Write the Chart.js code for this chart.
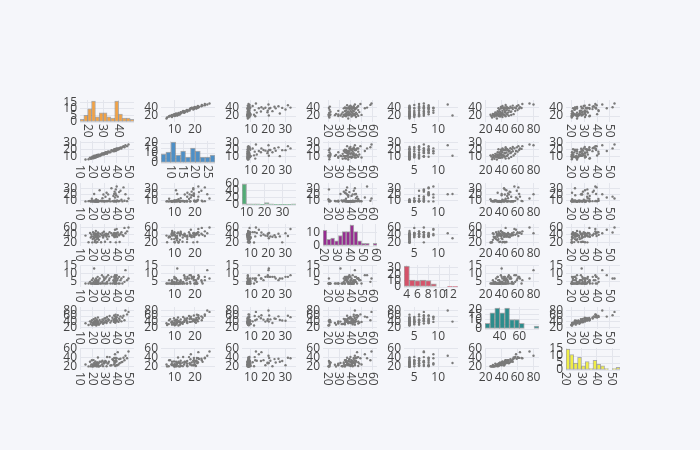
<!DOCTYPE html>
<html><head><meta charset="utf-8">
<script src="https://cdn.jsdelivr.net/npm/chart.js@4.4.1/dist/chart.umd.min.js"></script>
<style>
html,body{margin:0;padding:0;background:#f5f6fa;}
#wrap{position:relative;width:700px;height:450px;overflow:hidden;background:#f5f6fa;}
#wrap canvas{position:absolute;}
</style></head><body><div id="wrap"></div>
<script>
// ---- data (one observation per index) ----
const varA = [14.3,16.8,18.0,18.6,19.1,19.5,19.9,20.2,20.5,20.9,21.1,21.4,21.7,21.9,22.0,22.2,22.4,22.6,22.8,23.0,23.1,23.3,23.5,23.6,23.8,24.0,24.1,24.3,24.5,24.6,24.8,24.9,25.3,25.9,26.5,27.1,27.8,28.2,28.7,29.0,29.4,29.8,30.3,30.7,31.2,31.6,32.0,32.3,32.9,33.5,34.1,34.7,35.6,36.4,37.2,37.6,37.8,38.0,38.2,38.4,38.5,38.7,38.9,39.0,39.2,39.4,39.5,39.7,39.9,40.3,40.8,41.4,41.9,42.3,43.0,43.8,44.6,45.5,46.3,47.1,48.4,49.6];
const varB = [6.0,6.3,8.7,7.1,8.5,7.3,10.1,8.5,9.9,7.8,9.7,11.3,8.8,9.9,8.7,11.1,9.7,10.9,8.8,10.6,11.9,10.0,11.2,9.8,12.5,10.8,12.0,9.9,11.7,10.7,12.7,11.4,12.6,10.7,13.1,11.9,14.7,13.0,14.0,15.0,13.0,15.0,13.9,16.2,14.9,16.3,14.2,16.2,17.4,15.8,17.1,16.1,19.2,17.8,19.5,17.6,19.5,20.7,18.4,19.7,18.0,20.5,19.5,21.0,19.2,20.7,18.5,20.5,21.7,19.7,21.7,20.0,22.0,21.2,23.2,21.5,23.8,24.9,23.4,26.1,24.9,27.2];
const varC = [8.2,8.6,9.1,8.0,8.4,12.5,8.8,8.1,9.5,8.3,8.7,20.4,8.0,9.2,8.5,8.9,8.2,9.7,8.4,8.1,11.8,8.6,8.3,9.4,8.0,8.7,9.0,8.2,8.5,9.8,8.1,8.8,8.4,26.8,8.6,9.3,8.2,13.4,8.9,19.6,8.5,8.1,8.7,15.8,8.3,22.5,9.1,8.4,19.8,8.8,12.2,8.2,30.1,8.6,17.3,8.0,20.6,9.4,24.4,8.3,14.6,8.7,21.3,9.0,28.2,8.5,18.4,8.1,33.0,9.6,16.1,8.4,23.7,8.9,26.0,11.0,8.2,31.5,9.2,20.2,8.6,12.9];
const varD = [38,21,45,33,41,36,20.5,29,47,35,42,31,38,21.5,44,26,39,34,50,36,20.2,41,37,29,43,35,21.8,40,46,32,38,44,27,36,42,20.8,39,45,33,37,48,41,22.0,38,43,35,40,29,42,36,47,21.2,44,39,41,37,45,42,34,41,53,40,36,43,20.6,44,38,42,55,35,46,41,39,21.4,43,47,40,37,58,44,49,59];
const varE = [4,4,5,4,4,6,4,4,7,4,5,13,4,4,6,4,4,5,4,7,4,4,6,4,5,4,4,8,4,4,5,6,4,7,4,4,9,5,4,8,6,7,4,7,4,8,5,4,9,6,7,4,8,4,6,5,8,4,7,4,9,6,8,4,7,5,8,4,9,6,7,4,8,4,6,7,4,8,5,12,6,7];
const varF = [34,28,41,31,38,45,27,36,33,49,30,40,37,44,29,35,52,32,39,43,26,36,47,33,38,30,42,35,55,31,40,37,29,46,34,41,39,48,32,44,36,51,38,52,44,35,57,41,49,46,60,37,43,54,47,39,62,45,50,42,58,36,48,65,44,53,40,47,56,43,63,39,51,46,59,41,54,61,45,80,66,75];
const varG = [24.4,20.3,30.6,20.6,24.8,34.0,20.1,24.6,21.2,34.4,20.4,28.0,24.2,25.4,23.4,24.0,31.2,26.2,24.4,23.8,20.6,23.6,28.2,22.8,28.8,20.7,29.2,22.0,40.0,21.0,26.0,27.2,20.2,30.6,21.5,30.6,24.4,32.8,20.9,28.4,26.6,30.6,28.8,32.2,30.4,20.5,41.2,26.6,27.4,30.6,41.0,22.2,22.8,36.4,34.2,24.4,39.2,32.0,29.0,28.2,47.5,21.3,32.8,39.0,32.4,33.8,23.0,31.2,38.6,22.8,52.0,24.4,36.6,27.6,37.4,29.6,30.4,39.6,34.0,44.0,38.6,53.5];

// ---- diagonal histograms (bin counts) ----
const histA = [2,5,10,16,4,7,7,4,3,16,6,3,3,2];
const histB = [9,11,21,8,12,6,15,12,6,6,8];
const histC = [58,3,3,3,2,7,3,2,2,2,2,3];
const histD = [12,5,6,4,8,11,11,16,11,4,2,2,0,2];
const histE = [33,11,10,11,10,5,0,0,1,1];
const histF = [6,17,22,17,22,10,10,6,0,0,3];
const histG = [15,11,5,9,3,6,1,7,4,3,1,0,1,2];
const histStart = [15,6,7.5,19,3.5,25,20];
const histSize  = [2.5,2,2.5,3,1,5,2.5];

// ---- tick steps ----
const xTickStep = [10,10,10,10,5,20,10];
const yTickStep = [20,10,10,20,5,20,20];
const histXStep = [10,5,10,10,2,20,10];
const histYStep = [5,5,20,10,10,5,5];

const variables = [varA,varB,varC,varD,varE,varF,varG];
const hists = [histA,histB,histC,histD,histE,histF,histG];

// ---- styles / layout ----
const histColors = ['#f3a243','#4e8fc6','#52ab76','#962d91','#d4536a','#2c8c8c','#f0ee46'];
const rotScatterX = [true,false,false,true,false,false,true];
const rotHistX = [true,true,false,true,false,false,true];
const GRID = '#e3e5ec';
const TXT = '#444';
const FONT = '12px "Open Sans", sans-serif';
const PX0 = 80, PY0 = 100, DX = 81, DY = 41.33, W = 54, H = 22;
const PADL = 30, PADR = 4, PADT = 8, PADB = 22;
const XPADPX = 5.5, YPADPX = 3.5;

function fmt(v){ return String(Math.round(v*1000)/1000); }
function ticksIn(min, max, step, dropEnd){
  const out = [];
  for (let k = Math.ceil(min/step - 1e-9); k*step <= max + 1e-9; k++){
    const v = k*step;
    if (dropEnd && v > max - (max-min)*0.02) break;
    out.push(Math.round(v*1000)/1000);
  }
  return out;
}
function autoRange(arr, lenPx, padPx){
  let lo = Math.min(...arr), hi = Math.max(...arr);
  const pad = (hi-lo)*padPx/(lenPx-2*padPx);
  return [lo-pad, hi+pad];
}

const tickPlugin = {
  id: 'plotlyTicks',
  afterDraw(chart, args, opts){
    const ctx = chart.ctx, area = chart.chartArea;
    const xs = chart.scales.x, ys = chart.scales.y;
    ctx.save();
    ctx.fillStyle = TXT; ctx.font = FONT;
    xs.ticks.forEach(t => {
      const p = xs.getPixelForValue(t.value), s = fmt(t.value);
      if (opts.rotate){
        ctx.save(); ctx.translate(p, area.bottom + 2); ctx.rotate(Math.PI/2);
        ctx.textAlign = 'left'; ctx.textBaseline = 'middle'; ctx.fillText(s, 0, 0.5); ctx.restore();
      } else {
        ctx.textAlign = 'center'; ctx.textBaseline = 'top'; ctx.fillText(s, p, area.bottom + 2);
      }
    });
    ys.ticks.forEach(t => {
      const p = ys.getPixelForValue(t.value);
      ctx.textAlign = 'right'; ctx.textBaseline = 'middle'; ctx.fillText(fmt(t.value), area.left - 3, p);
    });
    ctx.restore();
  }
};

function scaleOpts(min, max, ticks){
  return {
    type: 'linear', min, max, offset: false,
    ticks: { display: false },
    grid: { color: GRID, lineWidth: 1, drawTicks: false, offset: false },
    border: { display: false },
    afterBuildTicks: s => { s.ticks = ticks.map(v => ({ value: v })); }
  };
}

const wrap = document.getElementById('wrap');
for (let r = 0; r < 7; r++){
  for (let c = 0; c < 7; c++){
    const px = Math.round(PX0 + c*DX), py = Math.round(PY0 + r*DY);
    const cv = document.createElement('canvas');
    cv.width = W + PADL + PADR; cv.height = H + PADT + PADB;
    cv.style.left = (px - PADL) + 'px'; cv.style.top = (py - PADT) + 'px';
    wrap.appendChild(cv);
    let cfg;
    if (r === c){
      const counts = hists[c], st = histStart[c], sz = histSize[c];
      const xmin = st, xmax = st + sz*counts.length;
      const ymax = Math.max(...counts)*1.05;
      cfg = {
        type: 'bar',
        data: { datasets: [{
          data: counts.map((n,k) => ({ x: st + sz*(k+0.5), y: n })),
          backgroundColor: histColors[c],
          borderColor: 'rgba(110,110,110,0.55)', borderWidth: 1, borderSkipped: false,
          barPercentage: 1, categoryPercentage: 1, grouped: false
        }]},
        options: {
          scales: {
            x: scaleOpts(xmin, xmax, ticksIn(xmin, xmax, histXStep[c], true)),
            y: scaleOpts(0, ymax, ticksIn(0, ymax, histYStep[c], false))
          },
          plugins: { plotlyTicks: { rotate: rotHistX[c] } }
        }
      };
    } else {
      const xr = autoRange(variables[c], W, XPADPX), yr = autoRange(variables[r], H, YPADPX);
      cfg = {
        type: 'scatter',
        data: { datasets: [{
          data: variables[c].map((x,i) => ({ x, y: variables[r][i] })),
          pointRadius: 1.2, pointBackgroundColor: '#7a7a7a', pointBorderWidth: 0, pointHoverRadius: 0
        }]},
        options: {
          scales: {
            x: scaleOpts(xr[0], xr[1], ticksIn(xr[0], xr[1], xTickStep[c], false)),
            y: scaleOpts(yr[0], yr[1], ticksIn(yr[0], yr[1], yTickStep[r], false))
          },
          plugins: { plotlyTicks: { rotate: rotScatterX[c] } }
        }
      };
    }
    cfg.options.responsive = false;
    cfg.options.animation = false;
    cfg.options.devicePixelRatio = 1;
    cfg.options.events = [];
    cfg.options.layout = { autoPadding: false, padding: { left: PADL, right: PADR, top: PADT, bottom: PADB } };
    cfg.options.plugins.legend = { display: false };
    cfg.options.plugins.tooltip = { enabled: false };
    cfg.plugins = [tickPlugin];
    new Chart(cv, cfg);
  }
}
</script></body></html>
